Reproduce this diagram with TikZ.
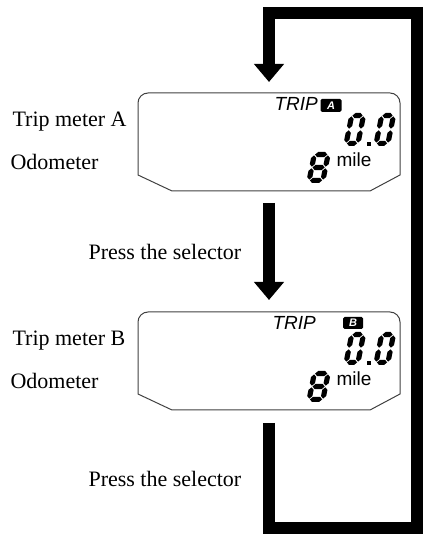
\documentclass[tikz,border=0pt]{standalone}
\usepackage{fontspec}
\setmainfont{Liberation Serif}
\setsansfont{Liberation Sans}
\usetikzlibrary{arrows.meta,calc}

% one LCD bar: horizontal (x1,x2,y) and vertical (x,y1,y2)
\newcommand{\hseg}[3]{\fill (#1,#3) -- (#1+2.6,#3+2.6) -- (#2-2.6,#3+2.6) -- (#2,#3) -- (#2-2.6,#3-2.6) -- (#1+2.6,#3-2.6) -- cycle;}
\newcommand{\vseg}[3]{\fill (#1,#2) -- (#1+2.6,#2+2.6) -- (#1+2.6,#3-2.6) -- (#1,#3) -- (#1-2.6,#3-2.6) -- (#1-2.6,#2+2.6) -- cycle;}
% slanted seven-segment digit: origin, width, height, middle bar on (1) or off (0)
\newcommand{\lcddigit}[4]{%
  \begin{scope}[shift={#1},xslant=0.2]
    \hseg{3.4}{#2-3.4}{#3-2.6}
    \hseg{3.4}{#2-3.4}{2.6}
    \vseg{2.6}{3.4}{#3/2-0.8}
    \vseg{2.6}{#3/2+0.8}{#3-3.4}
    \vseg{#2-2.6}{3.4}{#3/2-0.8}
    \vseg{#2-2.6}{#3/2+0.8}{#3-3.4}
    \ifnum#4=1 \hseg{3.4}{#2-3.4}{#3/2}\fi
  \end{scope}}

\begin{document}
\begin{tikzpicture}[x=1pt,y=1pt,
  sidetext/.style={anchor=base west,font=\fontsize{22}{26}\selectfont},
  lcdtext/.style={anchor=base west,font=\sffamily\itshape\fontsize{19}{19}\selectfont},
  unittext/.style={anchor=base west,font=\sffamily\fontsize{19}{19}\selectfont},
  tagbox/.style={fill=black,text=white,rounded corners=1.5pt,inner sep=0pt,minimum width=21pt,minimum height=13pt,font=\sffamily\bfseries\itshape\fontsize{11}{11}\selectfont},
  display/.style={minimum width=262pt,minimum height=98pt,inner sep=0pt,outer sep=0pt},
  lcdframe/.style={draw=black!75,line width=1pt},
  flowbar/.style={line width=12pt,-{Triangle[width=29pt,length=18pt]}}]
  \useasboundingbox (0,0) rectangle (423,534);

  \node[display] (dispA) at (269,392) {};
  \node[display] (dispB) at (269,173) {};
  \coordinate (loopbot) at (417,6);
  \coordinate (looptop) at (417,521);

  % display outlines: round top, bevelled bottom
  \foreach \d in {dispA,dispB}
    \draw[lcdframe] ([yshift=16pt]\d.south west) -- ([xshift=34pt]\d.south west)
      -- ([xshift=-30pt]\d.south east) -- ([yshift=16pt]\d.south east)
      -- ([yshift=-10pt]\d.north east) arc[start angle=0,end angle=90,radius=10pt]
      -- ([xshift=10pt]\d.north west) arc[start angle=90,end angle=180,radius=10pt] -- cycle;

  % side labels
  \node[sidetext] (tripA) at (9,407) {Trip meter A};
  \node[sidetext] (odoA) at (7,364) {Odometer};
  \node[sidetext] (pressA) at (85,274) {Press the selector};
  \node[sidetext] (tripB) at (9,188) {Trip meter B};
  \node[sidetext] (odoB) at (7,145) {Odometer};
  \node[sidetext] (pressB) at (85,47) {Press the selector};

  % display A
  \node[lcdtext] (tripmarkA) at (271,423) {TRIP};
  \node[tagbox] (tagA) at (331,428.5) {A};
  \lcddigit{(343,388)}{17}{33}{0}
  \fill (367,388) rectangle (371,392);
  \lcddigit{(373,388)}{17}{33}{0}
  \lcddigit{(306,351)}{19}{31}{1}
  \node[unittext] (mileA) at (333,367) {mile};

  % display B
  \node[lcdtext] (tripmarkB) at (269,204) {TRIP};
  \node[tagbox,minimum width=20pt,minimum height=12pt] (tagB) at (353,211) {B};
  \lcddigit{(343,169)}{17}{33}{0}
  \fill (367,169) rectangle (371,173);
  \lcddigit{(373,169)}{17}{33}{0}
  \lcddigit{(306,132)}{19}{31}{1}
  \node[unittext] (mileB) at (333,148) {mile};

  % selector flow
  \draw[flowbar] ([yshift=-12pt]dispA.south) -- ([yshift=12pt]dispB.north);
  \draw[flowbar] ([yshift=-13pt]dispB.south) -- (dispB.south |- loopbot) -- (loopbot)
    -- (looptop) -- (dispA.north |- looptop) -- ([yshift=11pt]dispA.north);
\end{tikzpicture}
\end{document}
